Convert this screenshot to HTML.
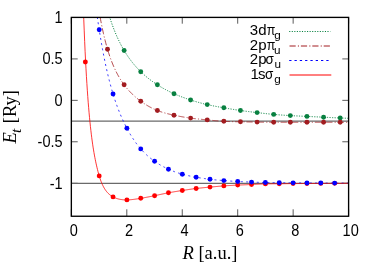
<!DOCTYPE html>
<html><head><meta charset="utf-8"><title>plot</title>
<style>
html,body{margin:0;padding:0;background:#fff;}
svg{display:block;will-change:transform;}
text{font-family:"Liberation Sans",sans-serif;font-size:15px;fill:#000;}
.ser{font-family:"Liberation Serif",serif;font-size:18.5px;}
</style></head><body>
<svg width="375" height="263" viewBox="0 0 375 263">
<rect width="375" height="263" fill="#fff"/>
<clipPath id="c"><rect x="71.5" y="17.5" width="277" height="198"/></clipPath>
<g stroke="#000" stroke-width="0.65" fill="none">
<path d="M71.35,216 v-6.7 M71.35,17.5 v6.2"/>
<path d="M126.80,216 v-6.7 M126.80,17.5 v6.2"/>
<path d="M182.25,216 v-6.7 M182.25,17.5 v6.2"/>
<path d="M237.70,216 v-6.7 M237.70,17.5 v6.2"/>
<path d="M293.15,216 v-6.7 M293.15,17.5 v6.2"/>
<path d="M348.60,216 v-6.7 M348.60,17.5 v6.2"/>
<path d="M71.5,17.50 h6.2 M348.5,17.50 h-6.2"/>
<path d="M71.5,58.92 h6.2 M348.5,58.92 h-6.2"/>
<path d="M71.5,100.35 h6.2 M348.5,100.35 h-6.2"/>
<path d="M71.5,141.77 h6.2 M348.5,141.77 h-6.2"/>
<path d="M71.5,183.30 h6.2 M348.5,183.30 h-6.2"/>
</g>
<g clip-path="url(#c)" fill="none" stroke-width="0.8">
<path d="M71.5,121.05 H348.5" stroke="#6a6a6a" stroke-width="1.33"/>
<path d="M71.5,183.3 H348.5" stroke="#6a6a6a" stroke-width="1.33"/>
<path d="M108.65,13.77 L109.05,15.09 L109.45,16.39 L109.85,17.66 L110.25,18.91 L110.65,20.13 L111.05,21.33 L111.45,22.50 L111.85,23.65 L112.25,24.78 L112.66,25.89 L113.06,26.97 L113.46,28.04 L113.86,29.09 L114.26,30.11 L114.66,31.12 L115.06,32.11 L115.46,33.08 L115.86,34.03 L116.26,34.97 L116.66,35.89 L117.06,36.79 L117.46,37.68 L117.86,38.55 L118.26,39.41 L118.66,40.26 L119.06,41.09 L119.46,41.90 L119.86,42.70 L120.26,43.49 L120.66,44.27 L121.06,45.04 L121.46,45.79 L121.86,46.53 L122.27,47.25 L122.67,47.97 L123.07,48.68 L123.47,49.37 L123.87,50.06 L124.27,50.73 L124.67,51.39 L125.07,52.05 L125.47,52.69 L125.87,53.32 L126.27,53.95 L126.67,54.56 L127.07,55.17 L127.47,55.77 L127.87,56.36 L128.27,56.94 L128.67,57.51 L129.07,58.08 L129.47,58.64 L129.87,59.19 L130.27,59.73 L130.67,60.26 L131.07,60.79 L131.47,61.31 L131.88,61.83 L132.28,62.33 L132.68,62.83 L133.08,63.33 L133.48,63.81 L133.88,64.30 L134.28,64.77 L134.68,65.24 L135.08,65.70 L135.48,66.16 L135.88,66.61 L136.28,67.06 L136.68,67.50 L137.08,67.94 L137.48,68.37 L137.88,68.79 L138.28,69.21 L138.68,69.63 L139.08,70.04 L139.48,70.45 L139.88,70.85 L140.28,71.24 L140.68,71.64 L141.08,72.02 L141.49,72.41 L141.89,72.79 L142.29,73.16 L142.69,73.53 L143.09,73.90 L143.49,74.26 L143.89,74.62 L144.29,74.98 L144.69,75.33 L145.09,75.68 L145.49,76.02 L145.89,76.36 L146.29,76.70 L146.69,77.03 L147.09,77.36 L147.49,77.69 L147.89,78.01 L148.29,78.33 L148.69,78.65 L149.09,78.96 L149.49,79.27 L149.89,79.58 L150.29,79.88 L150.69,80.18 L151.10,80.48 L151.50,80.78 L151.90,81.07 L152.30,81.36 L152.70,81.64 L153.10,81.93 L153.50,82.21 L153.90,82.49 L154.30,82.76 L154.70,83.04 L155.10,83.31 L155.50,83.58 L155.90,83.84 L156.30,84.11 L156.70,84.37 L157.10,84.63 L157.50,84.88 L157.90,85.14 L158.30,85.39 L158.70,85.64 L159.10,85.89 L159.50,86.13 L159.90,86.38 L160.30,86.62 L160.71,86.85 L161.11,87.09 L161.51,87.33 L161.91,87.56 L162.31,87.79 L162.71,88.02 L163.11,88.24 L163.51,88.47 L163.91,88.69 L164.31,88.91 L164.71,89.13 L165.11,89.35 L165.51,89.56 L165.91,89.77 L166.31,89.98 L166.71,90.19 L167.11,90.40 L167.51,90.61 L167.91,90.81 L168.31,91.01 L168.71,91.21 L169.11,91.41 L169.51,91.61 L169.91,91.80 L170.32,92.00 L170.72,92.19 L171.12,92.38 L171.52,92.57 L171.92,92.76 L172.32,92.94 L172.72,93.13 L173.12,93.31 L173.52,93.49 L173.92,93.67 L174.32,93.85 L174.72,94.02 L175.12,94.20 L175.52,94.37 L175.92,94.54 L176.32,94.71 L176.72,94.88 L177.12,95.05 L177.52,95.22 L177.92,95.38 L178.32,95.54 L178.72,95.71 L179.12,95.87 L179.52,96.03 L179.92,96.18 L180.33,96.34 L180.73,96.50 L181.13,96.65 L181.53,96.81 L181.93,96.96 L182.33,97.11 L182.73,97.26 L183.13,97.41 L183.53,97.56 L183.93,97.70 L184.33,97.85 L184.73,97.99 L185.13,98.14 L185.53,98.28 L185.93,98.42 L186.33,98.56 L186.73,98.70 L187.13,98.84 L187.53,98.98 L187.93,99.11 L188.33,99.25 L188.73,99.38 L189.13,99.52 L189.53,99.65 L189.94,99.78 L190.34,99.91 L190.74,100.04 L191.14,100.17 L191.54,100.30 L191.94,100.43 L192.34,100.55 L192.74,100.68 L193.14,100.80 L193.54,100.93 L193.94,101.05 L194.34,101.17 L194.74,101.29 L195.14,101.41 L195.54,101.53 L195.94,101.65 L196.34,101.77 L196.74,101.89 L197.14,102.00 L197.54,102.12 L197.94,102.23 L198.34,102.34 L198.74,102.45 L199.14,102.57 L199.55,102.68 L199.95,102.78 L200.35,102.89 L200.75,103.00 L201.15,103.11 L201.55,103.21 L201.95,103.32 L202.35,103.42 L202.75,103.52 L203.15,103.62 L203.55,103.72 L203.95,103.82 L204.35,103.92 L204.75,104.02 L205.15,104.12 L205.55,104.21 L205.95,104.31 L206.35,104.40 L206.75,104.49 L207.15,104.58 L207.55,104.67 L207.95,104.76 L208.35,104.85 L208.75,104.94 L209.16,105.03 L209.56,105.11 L209.96,105.20 L210.36,105.28 L210.76,105.36 L211.16,105.45 L211.56,105.53 L211.96,105.61 L212.36,105.69 L212.76,105.77 L213.16,105.85 L213.56,105.93 L213.96,106.00 L214.36,106.08 L214.76,106.16 L215.16,106.24 L215.56,106.31 L215.96,106.39 L216.36,106.46 L216.76,106.54 L217.16,106.61 L217.56,106.68 L217.96,106.76 L218.36,106.83 L218.77,106.90 L219.17,106.97 L219.57,107.04 L219.97,107.12 L220.37,107.19 L220.77,107.26 L221.17,107.33 L221.57,107.40 L221.97,107.47 L222.37,107.54 L222.77,107.61 L223.17,107.68 L223.57,107.75 L223.97,107.82 L224.37,107.89 L224.77,107.96 L225.17,108.03 L225.57,108.10 L225.97,108.17 L226.37,108.24 L226.77,108.31 L227.17,108.38 L227.57,108.44 L227.97,108.51 L228.38,108.58 L228.78,108.65 L229.18,108.72 L229.58,108.79 L229.98,108.85 L230.38,108.92 L230.78,108.99 L231.18,109.05 L231.58,109.12 L231.98,109.19 L232.38,109.25 L232.78,109.32 L233.18,109.38 L233.58,109.45 L233.98,109.51 L234.38,109.58 L234.78,109.64 L235.18,109.70 L235.58,109.77 L235.98,109.83 L236.38,109.89 L236.78,109.95 L237.18,110.01 L237.58,110.07 L237.99,110.13 L238.39,110.19 L238.79,110.25 L239.19,110.31 L239.59,110.37 L239.99,110.43 L240.39,110.49 L240.79,110.55 L241.19,110.60 L241.59,110.66 L241.99,110.71 L242.39,110.77 L242.79,110.82 L243.19,110.88 L243.59,110.93 L243.99,110.99 L244.39,111.04 L244.79,111.09 L245.19,111.15 L245.59,111.20 L245.99,111.25 L246.39,111.30 L246.79,111.35 L247.19,111.40 L247.60,111.45 L248.00,111.50 L248.40,111.55 L248.80,111.60 L249.20,111.65 L249.60,111.70 L250.00,111.75 L250.40,111.80 L250.80,111.85 L251.20,111.90 L251.60,111.95 L252.00,112.00 L252.40,112.04 L252.80,112.09 L253.20,112.14 L253.60,112.19 L254.00,112.24 L254.40,112.28 L254.80,112.33 L255.20,112.38 L255.60,112.42 L256.00,112.47 L256.40,112.52 L256.80,112.57 L257.21,112.61 L257.61,112.66 L258.01,112.71 L258.41,112.75 L258.81,112.80 L259.21,112.85 L259.61,112.89 L260.01,112.94 L260.41,112.99 L260.81,113.03 L261.21,113.08 L261.61,113.13 L262.01,113.17 L262.41,113.22 L262.81,113.26 L263.21,113.31 L263.61,113.35 L264.01,113.40 L264.41,113.44 L264.81,113.49 L265.21,113.53 L265.61,113.58 L266.01,113.62 L266.41,113.67 L266.82,113.71 L267.22,113.75 L267.62,113.79 L268.02,113.84 L268.42,113.88 L268.82,113.92 L269.22,113.96 L269.62,114.00 L270.02,114.04 L270.42,114.08 L270.82,114.12 L271.22,114.16 L271.62,114.20 L272.02,114.24 L272.42,114.28 L272.82,114.32 L273.22,114.35 L273.62,114.39 L274.02,114.43 L274.42,114.46 L274.82,114.50 L275.22,114.54 L275.62,114.57 L276.02,114.61 L276.43,114.64 L276.83,114.67 L277.23,114.71 L277.63,114.74 L278.03,114.77 L278.43,114.80 L278.83,114.84 L279.23,114.87 L279.63,114.90 L280.03,114.93 L280.43,114.96 L280.83,114.99 L281.23,115.02 L281.63,115.05 L282.03,115.08 L282.43,115.10 L282.83,115.13 L283.23,115.16 L283.63,115.19 L284.03,115.21 L284.43,115.24 L284.83,115.27 L285.23,115.29 L285.63,115.32 L286.04,115.34 L286.44,115.37 L286.84,115.39 L287.24,115.42 L287.64,115.44 L288.04,115.47 L288.44,115.49 L288.84,115.51 L289.24,115.54 L289.64,115.56 L290.04,115.58 L290.44,115.61 L290.84,115.63 L291.24,115.65 L291.64,115.67 L292.04,115.69 L292.44,115.71 L292.84,115.74 L293.24,115.76 L293.64,115.78 L294.04,115.80 L294.44,115.82 L294.84,115.84 L295.24,115.86 L295.65,115.88 L296.05,115.90 L296.45,115.92 L296.85,115.94 L297.25,115.95 L297.65,115.97 L298.05,115.99 L298.45,116.01 L298.85,116.03 L299.25,116.05 L299.65,116.07 L300.05,116.09 L300.45,116.10 L300.85,116.12 L301.25,116.14 L301.65,116.16 L302.05,116.18 L302.45,116.20 L302.85,116.21 L303.25,116.23 L303.65,116.25 L304.05,116.27 L304.45,116.29 L304.85,116.30 L305.26,116.32 L305.66,116.34 L306.06,116.36 L306.46,116.38 L306.86,116.40 L307.26,116.41 L307.66,116.43 L308.06,116.45 L308.46,116.47 L308.86,116.49 L309.26,116.51 L309.66,116.53 L310.06,116.54 L310.46,116.56 L310.86,116.58 L311.26,116.60 L311.66,116.62 L312.06,116.64 L312.46,116.66 L312.86,116.68 L313.26,116.69 L313.66,116.71 L314.06,116.73 L314.46,116.75 L314.87,116.77 L315.27,116.79 L315.67,116.81 L316.07,116.83 L316.47,116.85 L316.87,116.87 L317.27,116.89 L317.67,116.91 L318.07,116.93 L318.47,116.95 L318.87,116.97 L319.27,116.99 L319.67,117.01 L320.07,117.03 L320.47,117.05 L320.87,117.07 L321.27,117.08 L321.67,117.10 L322.07,117.12 L322.47,117.14 L322.87,117.16 L323.27,117.19 L323.67,117.21 L324.07,117.23 L324.48,117.25 L324.88,117.27 L325.28,117.29 L325.68,117.31 L326.08,117.33 L326.48,117.35 L326.88,117.37 L327.28,117.39 L327.68,117.41 L328.08,117.43 L328.48,117.45 L328.88,117.47 L329.28,117.49 L329.68,117.51 L330.08,117.53 L330.48,117.55 L330.88,117.57 L331.28,117.59 L331.68,117.61 L332.08,117.63 L332.48,117.65 L332.88,117.67 L333.28,117.69 L333.68,117.71 L334.09,117.72 L334.49,117.74 L334.89,117.76 L335.29,117.78 L335.69,117.80 L336.09,117.82 L336.49,117.84 L336.89,117.86 L337.29,117.87 L337.69,117.89 L338.09,117.91 L338.49,117.93 L338.89,117.94 L339.29,117.96 L339.69,117.98 L340.09,118.00 L340.49,118.01 L340.89,118.03 L341.29,118.05 L341.69,118.06 L342.09,118.08 L342.49,118.09 L342.89,118.11 L343.29,118.12 L343.70,118.14 L344.10,118.15 L344.50,118.17 L344.90,118.18 L345.30,118.20 L345.70,118.21 L346.10,118.22 L346.50,118.24 L346.90,118.25 L347.30,118.26 L347.70,118.28 L348.10,118.29 L348.50,118.30" stroke="#088040" stroke-width="1" stroke-dasharray="1.15,1.4"/>
<path d="M99.34,12.63 L99.75,15.02 L100.17,17.34 L100.59,19.60 L101.00,21.79 L101.42,23.92 L101.83,25.99 L102.25,28.00 L102.67,29.96 L103.08,31.87 L103.50,33.72 L103.91,35.52 L104.33,37.28 L104.75,38.98 L105.16,40.64 L105.58,42.26 L105.99,43.83 L106.41,45.36 L106.83,46.84 L107.24,48.29 L107.66,49.70 L108.07,51.07 L108.49,52.40 L108.91,53.70 L109.32,54.96 L109.74,56.19 L110.15,57.38 L110.57,58.55 L110.99,59.69 L111.40,60.80 L111.82,61.88 L112.23,62.93 L112.65,63.96 L113.07,64.96 L113.48,65.94 L113.90,66.90 L114.31,67.83 L114.73,68.74 L115.15,69.63 L115.56,70.50 L115.98,71.35 L116.39,72.18 L116.81,72.99 L117.23,73.79 L117.64,74.57 L118.06,75.33 L118.47,76.07 L118.89,76.80 L119.31,77.51 L119.72,78.21 L120.14,78.89 L120.55,79.56 L120.97,80.22 L121.38,80.86 L121.80,81.49 L122.22,82.11 L122.63,82.71 L123.05,83.31 L123.46,83.89 L123.88,84.46 L124.30,85.02 L124.71,85.58 L125.13,86.12 L125.54,86.65 L125.96,87.17 L126.38,87.68 L126.79,88.19 L127.21,88.68 L127.62,89.17 L128.04,89.65 L128.46,90.12 L128.87,90.58 L129.29,91.04 L129.70,91.48 L130.12,91.92 L130.54,92.36 L130.95,92.78 L131.37,93.20 L131.78,93.61 L132.20,94.02 L132.62,94.42 L133.03,94.82 L133.45,95.20 L133.86,95.59 L134.28,95.96 L134.70,96.33 L135.11,96.70 L135.53,97.06 L135.94,97.42 L136.36,97.77 L136.78,98.11 L137.19,98.46 L137.61,98.79 L138.02,99.13 L138.44,99.45 L138.86,99.78 L139.27,100.10 L139.69,100.41 L140.10,100.72 L140.52,101.03 L140.94,101.33 L141.35,101.64 L141.77,101.93 L142.18,102.22 L142.60,102.51 L143.01,102.80 L143.43,103.08 L143.85,103.36 L144.26,103.63 L144.68,103.91 L145.09,104.17 L145.51,104.44 L145.93,104.70 L146.34,104.96 L146.76,105.21 L147.17,105.46 L147.59,105.70 L148.01,105.95 L148.42,106.19 L148.84,106.42 L149.25,106.65 L149.67,106.88 L150.09,107.11 L150.50,107.33 L150.92,107.55 L151.33,107.76 L151.75,107.98 L152.17,108.18 L152.58,108.39 L153.00,108.59 L153.41,108.79 L153.83,108.98 L154.25,109.17 L154.66,109.36 L155.08,109.55 L155.49,109.73 L155.91,109.90 L156.33,110.08 L156.74,110.25 L157.16,110.42 L157.57,110.58 L157.99,110.74 L158.41,110.90 L158.82,111.05 L159.24,111.20 L159.65,111.35 L160.07,111.50 L160.49,111.64 L160.90,111.78 L161.32,111.92 L161.73,112.05 L162.15,112.19 L162.57,112.32 L162.98,112.44 L163.40,112.57 L163.81,112.69 L164.23,112.81 L164.64,112.93 L165.06,113.05 L165.48,113.16 L165.89,113.28 L166.31,113.39 L166.72,113.50 L167.14,113.61 L167.56,113.71 L167.97,113.82 L168.39,113.92 L168.80,114.02 L169.22,114.13 L169.64,114.22 L170.05,114.32 L170.47,114.42 L170.88,114.52 L171.30,114.61 L171.72,114.70 L172.13,114.80 L172.55,114.89 L172.96,114.98 L173.38,115.07 L173.80,115.16 L174.21,115.25 L174.63,115.33 L175.04,115.42 L175.46,115.51 L175.88,115.59 L176.29,115.68 L176.71,115.76 L177.12,115.85 L177.54,115.93 L177.96,116.01 L178.37,116.09 L178.79,116.17 L179.20,116.25 L179.62,116.33 L180.04,116.41 L180.45,116.48 L180.87,116.56 L181.28,116.63 L181.70,116.71 L182.12,116.78 L182.53,116.85 L182.95,116.93 L183.36,117.00 L183.78,117.07 L184.20,117.14 L184.61,117.21 L185.03,117.27 L185.44,117.34 L185.86,117.41 L186.27,117.47 L186.69,117.54 L187.11,117.60 L187.52,117.66 L187.94,117.72 L188.35,117.79 L188.77,117.85 L189.19,117.90 L189.60,117.96 L190.02,118.02 L190.43,118.08 L190.85,118.13 L191.27,118.19 L191.68,118.24 L192.10,118.29 L192.51,118.35 L192.93,118.40 L193.35,118.45 L193.76,118.50 L194.18,118.55 L194.59,118.60 L195.01,118.64 L195.43,118.69 L195.84,118.74 L196.26,118.79 L196.67,118.83 L197.09,118.88 L197.51,118.92 L197.92,118.97 L198.34,119.01 L198.75,119.06 L199.17,119.10 L199.59,119.14 L200.00,119.18 L200.42,119.23 L200.83,119.27 L201.25,119.31 L201.67,119.35 L202.08,119.39 L202.50,119.44 L202.91,119.48 L203.33,119.52 L203.75,119.56 L204.16,119.60 L204.58,119.64 L204.99,119.68 L205.41,119.72 L205.83,119.76 L206.24,119.80 L206.66,119.84 L207.07,119.88 L207.49,119.93 L207.90,119.97 L208.32,120.01 L208.74,120.05 L209.15,120.09 L209.57,120.13 L209.98,120.17 L210.40,120.21 L210.82,120.25 L211.23,120.29 L211.65,120.33 L212.06,120.37 L212.48,120.41 L212.90,120.45 L213.31,120.49 L213.73,120.53 L214.14,120.56 L214.56,120.60 L214.98,120.64 L215.39,120.68 L215.81,120.71 L216.22,120.75 L216.64,120.78 L217.06,120.82 L217.47,120.85 L217.89,120.89 L218.30,120.92 L218.72,120.95 L219.14,120.99 L219.55,121.02 L219.97,121.05 L220.38,121.08 L220.80,121.11 L221.22,121.14 L221.63,121.16 L222.05,121.19 L222.46,121.22 L222.88,121.24 L223.30,121.27 L223.71,121.29 L224.13,121.32 L224.54,121.34 L224.96,121.36 L225.38,121.38 L225.79,121.40 L226.21,121.42 L226.62,121.44 L227.04,121.45 L227.46,121.47 L227.87,121.49 L228.29,121.50 L228.70,121.52 L229.12,121.53 L229.53,121.55 L229.95,121.56 L230.37,121.58 L230.78,121.59 L231.20,121.60 L231.61,121.61 L232.03,121.62 L232.45,121.63 L232.86,121.64 L233.28,121.66 L233.69,121.67 L234.11,121.67 L234.53,121.68 L234.94,121.69 L235.36,121.70 L235.77,121.71 L236.19,121.72 L236.61,121.73 L237.02,121.74 L237.44,121.74 L237.85,121.75 L238.27,121.76 L238.69,121.77 L239.10,121.77 L239.52,121.78 L239.93,121.79 L240.35,121.80 L240.77,121.81 L241.18,121.81 L241.60,121.82 L242.01,121.83 L242.43,121.84 L242.85,121.84 L243.26,121.85 L243.68,121.86 L244.09,121.87 L244.51,121.87 L244.93,121.88 L245.34,121.89 L245.76,121.90 L246.17,121.91 L246.59,121.91 L247.01,121.92 L247.42,121.93 L247.84,121.94 L248.25,121.94 L248.67,121.95 L249.09,121.96 L249.50,121.97 L249.92,121.97 L250.33,121.98 L250.75,121.99 L251.16,122.00 L251.58,122.00 L252.00,122.01 L252.41,122.02 L252.83,122.03 L253.24,122.03 L253.66,122.04 L254.08,122.05 L254.49,122.06 L254.91,122.06 L255.32,122.07 L255.74,122.08 L256.16,122.08 L256.57,122.09 L256.99,122.10 L257.40,122.11 L257.82,122.11 L258.24,122.12 L258.65,122.13 L259.07,122.13 L259.48,122.14 L259.90,122.15 L260.32,122.15 L260.73,122.16 L261.15,122.17 L261.56,122.17 L261.98,122.18 L262.40,122.18 L262.81,122.19 L263.23,122.20 L263.64,122.20 L264.06,122.21 L264.48,122.21 L264.89,122.22 L265.31,122.22 L265.72,122.23 L266.14,122.23 L266.56,122.24 L266.97,122.24 L267.39,122.25 L267.80,122.25 L268.22,122.26 L268.64,122.26 L269.05,122.27 L269.47,122.27 L269.88,122.27 L270.30,122.28 L270.72,122.28 L271.13,122.28 L271.55,122.29 L271.96,122.29 L272.38,122.29 L272.79,122.29 L273.21,122.30 L273.63,122.30 L274.04,122.30 L274.46,122.30 L274.87,122.31 L275.29,122.31 L275.71,122.31 L276.12,122.31 L276.54,122.31 L276.95,122.31 L277.37,122.31 L277.79,122.31 L278.20,122.31 L278.62,122.31 L279.03,122.31 L279.45,122.31 L279.87,122.31 L280.28,122.31 L280.70,122.31 L281.11,122.31 L281.53,122.31 L281.95,122.31 L282.36,122.31 L282.78,122.31 L283.19,122.31 L283.61,122.31 L284.03,122.31 L284.44,122.31 L284.86,122.31 L285.27,122.31 L285.69,122.31 L286.11,122.31 L286.52,122.31 L286.94,122.31 L287.35,122.30 L287.77,122.30 L288.19,122.30 L288.60,122.30 L289.02,122.30 L289.43,122.30 L289.85,122.30 L290.27,122.30 L290.68,122.30 L291.10,122.30 L291.51,122.30 L291.93,122.30 L292.35,122.30 L292.76,122.30 L293.18,122.30 L293.59,122.30 L294.01,122.30 L294.42,122.30 L294.84,122.30 L295.26,122.30 L295.67,122.30 L296.09,122.30 L296.50,122.30 L296.92,122.30 L297.34,122.30 L297.75,122.30 L298.17,122.30 L298.58,122.30 L299.00,122.30 L299.42,122.30 L299.83,122.30 L300.25,122.30 L300.66,122.30 L301.08,122.30 L301.50,122.30 L301.91,122.30 L302.33,122.30 L302.74,122.30 L303.16,122.30 L303.58,122.30 L303.99,122.30 L304.41,122.30 L304.82,122.30 L305.24,122.30 L305.66,122.30 L306.07,122.30 L306.49,122.30 L306.90,122.30 L307.32,122.30 L307.74,122.30 L308.15,122.30 L308.57,122.30 L308.98,122.30 L309.40,122.30 L309.82,122.30 L310.23,122.30 L310.65,122.30 L311.06,122.30 L311.48,122.30 L311.90,122.30 L312.31,122.30 L312.73,122.30 L313.14,122.30 L313.56,122.30 L313.98,122.30 L314.39,122.30 L314.81,122.30 L315.22,122.30 L315.64,122.30 L316.05,122.30 L316.47,122.30 L316.89,122.30 L317.30,122.30 L317.72,122.30 L318.13,122.30 L318.55,122.30 L318.97,122.30 L319.38,122.30 L319.80,122.30 L320.21,122.30 L320.63,122.30 L321.05,122.30 L321.46,122.30 L321.88,122.30 L322.29,122.30 L322.71,122.30 L323.13,122.30 L323.54,122.30 L323.96,122.30 L324.37,122.30 L324.79,122.30 L325.21,122.30 L325.62,122.30 L326.04,122.30 L326.45,122.30 L326.87,122.30 L327.29,122.30 L327.70,122.30 L328.12,122.30 L328.53,122.30 L328.95,122.30 L329.37,122.30 L329.78,122.30 L330.20,122.30 L330.61,122.30 L331.03,122.30 L331.45,122.30 L331.86,122.30 L332.28,122.30 L332.69,122.30 L333.11,122.30 L333.53,122.30 L333.94,122.30 L334.36,122.30 L334.77,122.30 L335.19,122.30 L335.61,122.30 L336.02,122.30 L336.44,122.30 L336.85,122.30 L337.27,122.30 L337.68,122.30 L338.10,122.30 L338.52,122.30 L338.93,122.30 L339.35,122.30 L339.76,122.30 L340.18,122.30 L340.60,122.30 L341.01,122.30 L341.43,122.30 L341.84,122.30 L342.26,122.30 L342.68,122.30 L343.09,122.30 L343.51,122.30 L343.92,122.30 L344.34,122.30 L344.76,122.30 L345.17,122.30 L345.59,122.30 L346.00,122.30 L346.42,122.30 L346.84,122.30 L347.25,122.30 L347.67,122.30 L348.08,122.30 L348.50,122.30" stroke="#a21c20" stroke-dasharray="6.2,2.2,1.1,1.9" stroke-dashoffset="-4.5"/>
<path d="M96.62,11.74 L97.04,14.90 L97.46,17.96 L97.88,20.93 L98.30,23.81 L98.73,26.62 L99.15,29.35 L99.57,32.03 L99.99,34.64 L100.41,37.20 L100.83,39.70 L101.25,42.15 L101.67,44.55 L102.09,46.90 L102.51,49.19 L102.93,51.45 L103.35,53.65 L103.77,55.81 L104.19,57.93 L104.61,60.00 L105.03,62.03 L105.45,64.02 L105.87,65.98 L106.29,67.89 L106.71,69.77 L107.14,71.61 L107.56,73.41 L107.98,75.18 L108.40,76.92 L108.82,78.62 L109.24,80.29 L109.66,81.92 L110.08,83.53 L110.50,85.10 L110.92,86.64 L111.34,88.15 L111.76,89.63 L112.18,91.09 L112.60,92.51 L113.02,93.91 L113.44,95.28 L113.86,96.62 L114.28,97.94 L114.70,99.23 L115.12,100.49 L115.55,101.74 L115.97,102.95 L116.39,104.15 L116.81,105.33 L117.23,106.48 L117.65,107.61 L118.07,108.73 L118.49,109.82 L118.91,110.89 L119.33,111.95 L119.75,112.99 L120.17,114.01 L120.59,115.01 L121.01,116.00 L121.43,116.97 L121.85,117.92 L122.27,118.86 L122.69,119.79 L123.11,120.70 L123.53,121.60 L123.96,122.48 L124.38,123.35 L124.80,124.20 L125.22,125.05 L125.64,125.88 L126.06,126.70 L126.48,127.50 L126.90,128.30 L127.32,129.08 L127.74,129.85 L128.16,130.61 L128.58,131.37 L129.00,132.10 L129.42,132.83 L129.84,133.55 L130.26,134.26 L130.68,134.96 L131.10,135.65 L131.52,136.32 L131.94,136.99 L132.37,137.65 L132.79,138.30 L133.21,138.94 L133.63,139.57 L134.05,140.19 L134.47,140.80 L134.89,141.40 L135.31,142.00 L135.73,142.58 L136.15,143.16 L136.57,143.72 L136.99,144.28 L137.41,144.83 L137.83,145.37 L138.25,145.91 L138.67,146.43 L139.09,146.95 L139.51,147.45 L139.93,147.95 L140.35,148.44 L140.78,148.93 L141.20,149.40 L141.62,149.87 L142.04,150.33 L142.46,150.79 L142.88,151.23 L143.30,151.67 L143.72,152.10 L144.14,152.53 L144.56,152.95 L144.98,153.36 L145.40,153.76 L145.82,154.16 L146.24,154.56 L146.66,154.94 L147.08,155.33 L147.50,155.70 L147.92,156.07 L148.34,156.44 L148.76,156.80 L149.18,157.15 L149.61,157.50 L150.03,157.85 L150.45,158.19 L150.87,158.52 L151.29,158.85 L151.71,159.18 L152.13,159.50 L152.55,159.81 L152.97,160.13 L153.39,160.43 L153.81,160.74 L154.23,161.04 L154.65,161.34 L155.07,161.63 L155.49,161.92 L155.91,162.20 L156.33,162.48 L156.75,162.76 L157.17,163.04 L157.59,163.31 L158.02,163.57 L158.44,163.84 L158.86,164.10 L159.28,164.36 L159.70,164.61 L160.12,164.86 L160.54,165.11 L160.96,165.35 L161.38,165.59 L161.80,165.83 L162.22,166.06 L162.64,166.30 L163.06,166.53 L163.48,166.75 L163.90,166.97 L164.32,167.19 L164.74,167.41 L165.16,167.62 L165.58,167.83 L166.00,168.04 L166.43,168.25 L166.85,168.45 L167.27,168.65 L167.69,168.85 L168.11,169.04 L168.53,169.24 L168.95,169.42 L169.37,169.61 L169.79,169.80 L170.21,169.98 L170.63,170.16 L171.05,170.33 L171.47,170.51 L171.89,170.68 L172.31,170.85 L172.73,171.02 L173.15,171.18 L173.57,171.34 L173.99,171.50 L174.41,171.66 L174.84,171.82 L175.26,171.97 L175.68,172.12 L176.10,172.27 L176.52,172.41 L176.94,172.56 L177.36,172.70 L177.78,172.84 L178.20,172.97 L178.62,173.11 L179.04,173.24 L179.46,173.37 L179.88,173.50 L180.30,173.63 L180.72,173.75 L181.14,173.87 L181.56,173.99 L181.98,174.11 L182.40,174.23 L182.82,174.34 L183.25,174.45 L183.67,174.56 L184.09,174.67 L184.51,174.78 L184.93,174.88 L185.35,174.99 L185.77,175.09 L186.19,175.19 L186.61,175.29 L187.03,175.38 L187.45,175.48 L187.87,175.57 L188.29,175.66 L188.71,175.76 L189.13,175.85 L189.55,175.93 L189.97,176.02 L190.39,176.11 L190.81,176.19 L191.23,176.28 L191.66,176.36 L192.08,176.44 L192.50,176.52 L192.92,176.61 L193.34,176.69 L193.76,176.76 L194.18,176.84 L194.60,176.92 L195.02,177.00 L195.44,177.07 L195.86,177.15 L196.28,177.22 L196.70,177.30 L197.12,177.37 L197.54,177.44 L197.96,177.52 L198.38,177.59 L198.80,177.66 L199.22,177.73 L199.64,177.80 L200.06,177.87 L200.49,177.94 L200.91,178.01 L201.33,178.08 L201.75,178.14 L202.17,178.21 L202.59,178.28 L203.01,178.34 L203.43,178.40 L203.85,178.47 L204.27,178.53 L204.69,178.59 L205.11,178.65 L205.53,178.71 L205.95,178.77 L206.37,178.83 L206.79,178.89 L207.21,178.95 L207.63,179.00 L208.05,179.06 L208.47,179.11 L208.90,179.16 L209.32,179.22 L209.74,179.27 L210.16,179.32 L210.58,179.37 L211.00,179.42 L211.42,179.47 L211.84,179.51 L212.26,179.56 L212.68,179.60 L213.10,179.65 L213.52,179.69 L213.94,179.74 L214.36,179.78 L214.78,179.82 L215.20,179.86 L215.62,179.90 L216.04,179.94 L216.46,179.98 L216.88,180.02 L217.31,180.06 L217.73,180.10 L218.15,180.14 L218.57,180.17 L218.99,180.21 L219.41,180.24 L219.83,180.28 L220.25,180.32 L220.67,180.35 L221.09,180.38 L221.51,180.42 L221.93,180.45 L222.35,180.48 L222.77,180.52 L223.19,180.55 L223.61,180.58 L224.03,180.61 L224.45,180.65 L224.87,180.68 L225.29,180.71 L225.72,180.74 L226.14,180.77 L226.56,180.80 L226.98,180.83 L227.40,180.86 L227.82,180.89 L228.24,180.92 L228.66,180.95 L229.08,180.98 L229.50,181.01 L229.92,181.03 L230.34,181.06 L230.76,181.09 L231.18,181.12 L231.60,181.14 L232.02,181.17 L232.44,181.20 L232.86,181.22 L233.28,181.25 L233.70,181.27 L234.13,181.30 L234.55,181.32 L234.97,181.35 L235.39,181.37 L235.81,181.40 L236.23,181.42 L236.65,181.44 L237.07,181.47 L237.49,181.49 L237.91,181.51 L238.33,181.53 L238.75,181.55 L239.17,181.58 L239.59,181.60 L240.01,181.62 L240.43,181.64 L240.85,181.66 L241.27,181.68 L241.69,181.70 L242.11,181.72 L242.54,181.74 L242.96,181.76 L243.38,181.78 L243.80,181.79 L244.22,181.81 L244.64,181.83 L245.06,181.85 L245.48,181.87 L245.90,181.88 L246.32,181.90 L246.74,181.92 L247.16,181.93 L247.58,181.95 L248.00,181.97 L248.42,181.98 L248.84,182.00 L249.26,182.02 L249.68,182.03 L250.10,182.05 L250.52,182.06 L250.94,182.08 L251.37,182.09 L251.79,182.11 L252.21,182.12 L252.63,182.14 L253.05,182.15 L253.47,182.17 L253.89,182.18 L254.31,182.20 L254.73,182.21 L255.15,182.22 L255.57,182.24 L255.99,182.25 L256.41,182.26 L256.83,182.28 L257.25,182.29 L257.67,182.30 L258.09,182.32 L258.51,182.33 L258.93,182.34 L259.35,182.35 L259.78,182.36 L260.20,182.38 L260.62,182.39 L261.04,182.40 L261.46,182.41 L261.88,182.42 L262.30,182.43 L262.72,182.44 L263.14,182.45 L263.56,182.46 L263.98,182.47 L264.40,182.48 L264.82,182.49 L265.24,182.50 L265.66,182.51 L266.08,182.51 L266.50,182.52 L266.92,182.53 L267.34,182.54 L267.76,182.54 L268.19,182.55 L268.61,182.56 L269.03,182.57 L269.45,182.57 L269.87,182.58 L270.29,182.59 L270.71,182.59 L271.13,182.60 L271.55,182.60 L271.97,182.61 L272.39,182.62 L272.81,182.62 L273.23,182.63 L273.65,182.63 L274.07,182.64 L274.49,182.64 L274.91,182.65 L275.33,182.65 L275.75,182.66 L276.17,182.66 L276.60,182.67 L277.02,182.67 L277.44,182.68 L277.86,182.68 L278.28,182.69 L278.70,182.69 L279.12,182.70 L279.54,182.70 L279.96,182.71 L280.38,182.71 L280.80,182.72 L281.22,182.72 L281.64,182.73 L282.06,182.73 L282.48,182.74 L282.90,182.74 L283.32,182.75 L283.74,182.75 L284.16,182.76 L284.58,182.76 L285.01,182.77 L285.43,182.77 L285.85,182.78 L286.27,182.78 L286.69,182.79 L287.11,182.79 L287.53,182.80 L287.95,182.80 L288.37,182.80 L288.79,182.81 L289.21,182.81 L289.63,182.82 L290.05,182.82 L290.47,182.83 L290.89,182.83 L291.31,182.83 L291.73,182.84 L292.15,182.84 L292.57,182.85 L292.99,182.85 L293.42,182.85 L293.84,182.86 L294.26,182.86 L294.68,182.86 L295.10,182.87 L295.52,182.87 L295.94,182.87 L296.36,182.88 L296.78,182.88 L297.20,182.88 L297.62,182.89 L298.04,182.89 L298.46,182.89 L298.88,182.89 L299.30,182.90 L299.72,182.90 L300.14,182.90 L300.56,182.91 L300.98,182.91 L301.40,182.91 L301.82,182.91 L302.25,182.92 L302.67,182.92 L303.09,182.92 L303.51,182.93 L303.93,182.93 L304.35,182.93 L304.77,182.93 L305.19,182.94 L305.61,182.94 L306.03,182.94 L306.45,182.95 L306.87,182.95 L307.29,182.95 L307.71,182.96 L308.13,182.96 L308.55,182.96 L308.97,182.97 L309.39,182.97 L309.81,182.97 L310.23,182.97 L310.66,182.98 L311.08,182.98 L311.50,182.98 L311.92,182.99 L312.34,182.99 L312.76,182.99 L313.18,183.00 L313.60,183.00 L314.02,183.00 L314.44,183.01 L314.86,183.01 L315.28,183.01 L315.70,183.02 L316.12,183.02 L316.54,183.02 L316.96,183.03 L317.38,183.03 L317.80,183.03 L318.22,183.03 L318.64,183.04 L319.07,183.04 L319.49,183.04 L319.91,183.04 L320.33,183.05 L320.75,183.05 L321.17,183.05 L321.59,183.05 L322.01,183.06 L322.43,183.06 L322.85,183.06 L323.27,183.06 L323.69,183.06 L324.11,183.07 L324.53,183.07 L324.95,183.07 L325.37,183.07 L325.79,183.07 L326.21,183.07 L326.63,183.08 L327.05,183.08 L327.48,183.08 L327.90,183.08 L328.32,183.08 L328.74,183.08 L329.16,183.08 L329.58,183.09 L330.00,183.09 L330.42,183.09 L330.84,183.09 L331.26,183.09 L331.68,183.09 L332.10,183.09 L332.52,183.09 L332.94,183.10 L333.36,183.10 L333.78,183.10 L334.20,183.10 L334.62,183.10 L335.04,183.10 L335.46,183.10 L335.89,183.10 L336.31,183.10 L336.73,183.11 L337.15,183.11 L337.57,183.11 L337.99,183.11 L338.41,183.11 L338.83,183.11 L339.25,183.11 L339.67,183.11 L340.09,183.12 L340.51,183.12 L340.93,183.12 L341.35,183.12 L341.77,183.12 L342.19,183.12 L342.61,183.12 L343.03,183.13 L343.45,183.13 L343.87,183.13 L344.30,183.13 L344.72,183.13 L345.14,183.13 L345.56,183.14 L345.98,183.14 L346.40,183.14 L346.82,183.14 L347.24,183.14 L347.66,183.15 L348.08,183.15 L348.50,183.15" stroke="#0000ff" stroke-dasharray="2,3.3"/>
<path d="M83.33,7.43 L83.78,19.54 L84.22,30.89 L84.66,41.48 L85.10,51.32 L85.55,60.39 L85.99,68.74 L86.43,76.45 L86.88,83.59 L87.32,90.23 L87.76,96.42 L88.20,102.22 L88.65,107.67 L89.09,112.79 L89.53,117.61 L89.97,122.14 L90.42,126.40 L90.86,130.41 L91.30,134.17 L91.74,137.71 L92.19,141.04 L92.63,144.18 L93.07,147.14 L93.52,149.93 L93.96,152.57 L94.40,155.06 L94.84,157.42 L95.29,159.68 L95.73,161.83 L96.17,163.89 L96.61,165.87 L97.06,167.78 L97.50,169.61 L97.94,171.37 L98.39,173.04 L98.83,174.63 L99.27,176.13 L99.71,177.55 L100.16,178.89 L100.60,180.15 L101.04,181.34 L101.48,182.46 L101.93,183.52 L102.37,184.52 L102.81,185.46 L103.25,186.34 L103.70,187.18 L104.14,187.96 L104.58,188.70 L105.03,189.40 L105.47,190.06 L105.91,190.67 L106.35,191.26 L106.80,191.80 L107.24,192.32 L107.68,192.81 L108.12,193.27 L108.57,193.70 L109.01,194.10 L109.45,194.49 L109.89,194.85 L110.34,195.19 L110.78,195.51 L111.22,195.81 L111.67,196.10 L112.11,196.37 L112.55,196.63 L112.99,196.87 L113.44,197.10 L113.88,197.32 L114.32,197.53 L114.76,197.72 L115.21,197.91 L115.65,198.09 L116.09,198.25 L116.54,198.41 L116.98,198.55 L117.42,198.69 L117.86,198.82 L118.31,198.94 L118.75,199.05 L119.19,199.16 L119.63,199.25 L120.08,199.34 L120.52,199.42 L120.96,199.50 L121.40,199.56 L121.85,199.62 L122.29,199.68 L122.73,199.73 L123.18,199.77 L123.62,199.80 L124.06,199.83 L124.50,199.86 L124.95,199.88 L125.39,199.89 L125.83,199.90 L126.27,199.90 L126.72,199.90 L127.16,199.90 L127.60,199.89 L128.04,199.87 L128.49,199.85 L128.93,199.83 L129.37,199.80 L129.82,199.77 L130.26,199.74 L130.70,199.70 L131.14,199.66 L131.59,199.62 L132.03,199.57 L132.47,199.52 L132.91,199.47 L133.36,199.42 L133.80,199.37 L134.24,199.31 L134.69,199.25 L135.13,199.19 L135.57,199.12 L136.01,199.06 L136.46,198.99 L136.90,198.93 L137.34,198.86 L137.78,198.79 L138.23,198.72 L138.67,198.65 L139.11,198.57 L139.55,198.50 L140.00,198.43 L140.44,198.35 L140.88,198.28 L141.33,198.20 L141.77,198.13 L142.21,198.05 L142.65,197.97 L143.10,197.90 L143.54,197.82 L143.98,197.74 L144.42,197.66 L144.87,197.58 L145.31,197.50 L145.75,197.42 L146.19,197.34 L146.64,197.26 L147.08,197.18 L147.52,197.10 L147.97,197.01 L148.41,196.93 L148.85,196.85 L149.29,196.76 L149.74,196.68 L150.18,196.59 L150.62,196.51 L151.06,196.42 L151.51,196.33 L151.95,196.24 L152.39,196.15 L152.83,196.06 L153.28,195.97 L153.72,195.88 L154.16,195.79 L154.61,195.70 L155.05,195.61 L155.49,195.51 L155.93,195.42 L156.38,195.32 L156.82,195.23 L157.26,195.13 L157.70,195.04 L158.15,194.94 L158.59,194.85 L159.03,194.75 L159.48,194.65 L159.92,194.56 L160.36,194.46 L160.80,194.37 L161.25,194.27 L161.69,194.18 L162.13,194.08 L162.57,193.99 L163.02,193.89 L163.46,193.80 L163.90,193.71 L164.34,193.62 L164.79,193.53 L165.23,193.43 L165.67,193.34 L166.12,193.26 L166.56,193.17 L167.00,193.08 L167.44,192.99 L167.89,192.91 L168.33,192.82 L168.77,192.74 L169.21,192.66 L169.66,192.58 L170.10,192.50 L170.54,192.42 L170.98,192.34 L171.43,192.26 L171.87,192.18 L172.31,192.11 L172.76,192.03 L173.20,191.95 L173.64,191.88 L174.08,191.81 L174.53,191.73 L174.97,191.66 L175.41,191.59 L175.85,191.52 L176.30,191.44 L176.74,191.37 L177.18,191.30 L177.63,191.23 L178.07,191.16 L178.51,191.09 L178.95,191.02 L179.40,190.95 L179.84,190.88 L180.28,190.82 L180.72,190.75 L181.17,190.68 L181.61,190.61 L182.05,190.54 L182.49,190.47 L182.94,190.40 L183.38,190.33 L183.82,190.26 L184.27,190.19 L184.71,190.12 L185.15,190.06 L185.59,189.99 L186.04,189.92 L186.48,189.85 L186.92,189.78 L187.36,189.72 L187.81,189.65 L188.25,189.58 L188.69,189.52 L189.13,189.45 L189.58,189.39 L190.02,189.32 L190.46,189.26 L190.91,189.20 L191.35,189.13 L191.79,189.07 L192.23,189.01 L192.68,188.95 L193.12,188.89 L193.56,188.83 L194.00,188.77 L194.45,188.71 L194.89,188.66 L195.33,188.60 L195.78,188.55 L196.22,188.49 L196.66,188.44 L197.10,188.39 L197.55,188.34 L197.99,188.28 L198.43,188.23 L198.87,188.19 L199.32,188.14 L199.76,188.09 L200.20,188.04 L200.64,188.00 L201.09,187.95 L201.53,187.91 L201.97,187.86 L202.42,187.82 L202.86,187.77 L203.30,187.73 L203.74,187.69 L204.19,187.64 L204.63,187.60 L205.07,187.56 L205.51,187.52 L205.96,187.48 L206.40,187.43 L206.84,187.39 L207.28,187.35 L207.73,187.31 L208.17,187.27 L208.61,187.23 L209.06,187.19 L209.50,187.15 L209.94,187.11 L210.38,187.06 L210.83,187.02 L211.27,186.98 L211.71,186.94 L212.15,186.90 L212.60,186.86 L213.04,186.82 L213.48,186.78 L213.92,186.74 L214.37,186.70 L214.81,186.66 L215.25,186.62 L215.70,186.58 L216.14,186.54 L216.58,186.50 L217.02,186.46 L217.47,186.42 L217.91,186.38 L218.35,186.34 L218.79,186.30 L219.24,186.27 L219.68,186.23 L220.12,186.19 L220.57,186.16 L221.01,186.12 L221.45,186.08 L221.89,186.05 L222.34,186.01 L222.78,185.98 L223.22,185.95 L223.66,185.91 L224.11,185.88 L224.55,185.85 L224.99,185.82 L225.43,185.79 L225.88,185.76 L226.32,185.73 L226.76,185.70 L227.21,185.67 L227.65,185.64 L228.09,185.61 L228.53,185.58 L228.98,185.56 L229.42,185.53 L229.86,185.50 L230.30,185.48 L230.75,185.45 L231.19,185.43 L231.63,185.40 L232.07,185.38 L232.52,185.36 L232.96,185.33 L233.40,185.31 L233.85,185.29 L234.29,185.26 L234.73,185.24 L235.17,185.22 L235.62,185.20 L236.06,185.18 L236.50,185.16 L236.94,185.13 L237.39,185.11 L237.83,185.09 L238.27,185.07 L238.72,185.05 L239.16,185.03 L239.60,185.02 L240.04,185.00 L240.49,184.98 L240.93,184.96 L241.37,184.94 L241.81,184.92 L242.26,184.90 L242.70,184.88 L243.14,184.87 L243.58,184.85 L244.03,184.83 L244.47,184.81 L244.91,184.79 L245.36,184.77 L245.80,184.75 L246.24,184.74 L246.68,184.72 L247.13,184.70 L247.57,184.68 L248.01,184.66 L248.45,184.64 L248.90,184.62 L249.34,184.60 L249.78,184.58 L250.22,184.56 L250.67,184.54 L251.11,184.52 L251.55,184.50 L252.00,184.48 L252.44,184.46 L252.88,184.44 L253.32,184.41 L253.77,184.39 L254.21,184.37 L254.65,184.35 L255.09,184.33 L255.54,184.30 L255.98,184.28 L256.42,184.26 L256.87,184.24 L257.31,184.22 L257.75,184.20 L258.19,184.18 L258.64,184.16 L259.08,184.14 L259.52,184.12 L259.96,184.10 L260.41,184.08 L260.85,184.06 L261.29,184.04 L261.73,184.02 L262.18,184.00 L262.62,183.99 L263.06,183.97 L263.51,183.96 L263.95,183.94 L264.39,183.93 L264.83,183.92 L265.28,183.90 L265.72,183.89 L266.16,183.88 L266.60,183.87 L267.05,183.86 L267.49,183.85 L267.93,183.85 L268.37,183.84 L268.82,183.83 L269.26,183.82 L269.70,183.82 L270.15,183.81 L270.59,183.81 L271.03,183.80 L271.47,183.80 L271.92,183.80 L272.36,183.79 L272.80,183.79 L273.24,183.79 L273.69,183.78 L274.13,183.78 L274.57,183.78 L275.01,183.78 L275.46,183.77 L275.90,183.77 L276.34,183.77 L276.79,183.77 L277.23,183.76 L277.67,183.76 L278.11,183.76 L278.56,183.75 L279.00,183.75 L279.44,183.75 L279.88,183.75 L280.33,183.74 L280.77,183.74 L281.21,183.73 L281.66,183.73 L282.10,183.72 L282.54,183.72 L282.98,183.72 L283.43,183.71 L283.87,183.71 L284.31,183.70 L284.75,183.70 L285.20,183.69 L285.64,183.69 L286.08,183.68 L286.52,183.67 L286.97,183.67 L287.41,183.66 L287.85,183.66 L288.30,183.65 L288.74,183.65 L289.18,183.64 L289.62,183.64 L290.07,183.63 L290.51,183.63 L290.95,183.62 L291.39,183.62 L291.84,183.61 L292.28,183.61 L292.72,183.60 L293.16,183.60 L293.61,183.60 L294.05,183.59 L294.49,183.59 L294.94,183.58 L295.38,183.58 L295.82,183.58 L296.26,183.57 L296.71,183.57 L297.15,183.57 L297.59,183.56 L298.03,183.56 L298.48,183.56 L298.92,183.55 L299.36,183.55 L299.81,183.55 L300.25,183.54 L300.69,183.54 L301.13,183.54 L301.58,183.54 L302.02,183.53 L302.46,183.53 L302.90,183.53 L303.35,183.52 L303.79,183.52 L304.23,183.52 L304.67,183.52 L305.12,183.51 L305.56,183.51 L306.00,183.51 L306.45,183.50 L306.89,183.50 L307.33,183.50 L307.77,183.49 L308.22,183.49 L308.66,183.49 L309.10,183.48 L309.54,183.48 L309.99,183.48 L310.43,183.47 L310.87,183.47 L311.31,183.47 L311.76,183.46 L312.20,183.46 L312.64,183.46 L313.09,183.45 L313.53,183.45 L313.97,183.45 L314.41,183.44 L314.86,183.44 L315.30,183.44 L315.74,183.43 L316.18,183.43 L316.63,183.43 L317.07,183.42 L317.51,183.42 L317.96,183.42 L318.40,183.41 L318.84,183.41 L319.28,183.41 L319.73,183.41 L320.17,183.40 L320.61,183.40 L321.05,183.40 L321.50,183.40 L321.94,183.39 L322.38,183.39 L322.82,183.39 L323.27,183.39 L323.71,183.39 L324.15,183.38 L324.60,183.38 L325.04,183.38 L325.48,183.38 L325.92,183.38 L326.37,183.37 L326.81,183.37 L327.25,183.37 L327.69,183.37 L328.14,183.37 L328.58,183.37 L329.02,183.37 L329.46,183.36 L329.91,183.36 L330.35,183.36 L330.79,183.36 L331.24,183.36 L331.68,183.36 L332.12,183.36 L332.56,183.36 L333.01,183.35 L333.45,183.35 L333.89,183.35 L334.33,183.35 L334.78,183.35 L335.22,183.35 L335.66,183.35 L336.10,183.35 L336.55,183.34 L336.99,183.34 L337.43,183.34 L337.88,183.34 L338.32,183.34 L338.76,183.34 L339.20,183.34 L339.65,183.34 L340.09,183.33 L340.53,183.33 L340.97,183.33 L341.42,183.33 L341.86,183.33 L342.30,183.33 L342.75,183.33 L343.19,183.32 L343.63,183.32 L344.07,183.32 L344.52,183.32 L344.96,183.32 L345.40,183.32 L345.84,183.31 L346.29,183.31 L346.73,183.31 L347.17,183.31 L347.61,183.30 L348.06,183.30 L348.50,183.30" stroke="#ff0000"/>
</g>
<g>
<circle cx="124.13" cy="50.50" r="2.45" fill="#088040"/>
<circle cx="140.75" cy="71.70" r="2.45" fill="#088040"/>
<circle cx="157.37" cy="84.80" r="2.45" fill="#088040"/>
<circle cx="173.99" cy="93.70" r="2.45" fill="#088040"/>
<circle cx="190.61" cy="100.00" r="2.45" fill="#088040"/>
<circle cx="207.23" cy="104.60" r="2.45" fill="#088040"/>
<circle cx="223.85" cy="107.80" r="2.45" fill="#088040"/>
<circle cx="240.47" cy="110.50" r="2.45" fill="#088040"/>
<circle cx="257.09" cy="112.60" r="2.45" fill="#088040"/>
<circle cx="273.71" cy="114.40" r="2.45" fill="#088040"/>
<circle cx="290.33" cy="115.60" r="2.45" fill="#088040"/>
<circle cx="306.95" cy="116.40" r="2.45" fill="#088040"/>
<circle cx="323.57" cy="117.20" r="2.45" fill="#088040"/>
<circle cx="340.19" cy="118.00" r="2.45" fill="#088040"/>
<circle cx="107.51" cy="49.20" r="2.45" fill="#a21c20"/>
<circle cx="124.13" cy="84.80" r="2.45" fill="#a21c20"/>
<circle cx="140.75" cy="101.20" r="2.45" fill="#a21c20"/>
<circle cx="157.37" cy="110.50" r="2.45" fill="#a21c20"/>
<circle cx="173.99" cy="115.20" r="2.45" fill="#a21c20"/>
<circle cx="190.61" cy="118.10" r="2.45" fill="#a21c20"/>
<circle cx="207.23" cy="119.90" r="2.45" fill="#a21c20"/>
<circle cx="223.85" cy="121.30" r="2.45" fill="#a21c20"/>
<circle cx="240.47" cy="121.80" r="2.45" fill="#a21c20"/>
<circle cx="257.09" cy="122.10" r="2.45" fill="#a21c20"/>
<circle cx="273.71" cy="122.30" r="2.45" fill="#a21c20"/>
<circle cx="290.33" cy="122.30" r="2.45" fill="#a21c20"/>
<circle cx="306.95" cy="122.30" r="2.45" fill="#a21c20"/>
<circle cx="323.57" cy="122.30" r="2.45" fill="#a21c20"/>
<circle cx="340.19" cy="122.30" r="2.45" fill="#a21c20"/>
<circle cx="85.35" cy="62.00" r="2.45" fill="#ff0000"/>
<circle cx="99.20" cy="175.90" r="2.45" fill="#ff0000"/>
<circle cx="113.05" cy="196.90" r="2.45" fill="#ff0000"/>
<circle cx="126.90" cy="199.90" r="2.45" fill="#ff0000"/>
<circle cx="140.75" cy="198.30" r="2.45" fill="#ff0000"/>
<circle cx="154.60" cy="195.70" r="2.45" fill="#ff0000"/>
<circle cx="168.45" cy="192.80" r="2.45" fill="#ff0000"/>
<circle cx="182.30" cy="190.50" r="2.45" fill="#ff0000"/>
<circle cx="196.15" cy="188.50" r="2.45" fill="#ff0000"/>
<circle cx="210.00" cy="187.10" r="2.45" fill="#ff0000"/>
<circle cx="223.85" cy="185.90" r="2.45" fill="#ff0000"/>
<circle cx="237.70" cy="185.10" r="2.45" fill="#ff0000"/>
<circle cx="251.55" cy="184.50" r="2.45" fill="#ff0000"/>
<circle cx="265.40" cy="183.90" r="2.45" fill="#ff0000"/>
<circle cx="279.25" cy="183.75" r="2.45" fill="#ff0000"/>
<circle cx="293.10" cy="183.60" r="2.45" fill="#ff0000"/>
<circle cx="306.95" cy="183.50" r="2.45" fill="#ff0000"/>
<circle cx="320.80" cy="183.40" r="2.45" fill="#ff0000"/>
<circle cx="334.65" cy="183.35" r="2.45" fill="#ff0000"/>
<circle cx="99.20" cy="29.70" r="2.45" fill="#0000ff"/>
<circle cx="113.05" cy="94.00" r="2.45" fill="#0000ff"/>
<circle cx="126.90" cy="128.30" r="2.45" fill="#0000ff"/>
<circle cx="140.75" cy="148.90" r="2.45" fill="#0000ff"/>
<circle cx="154.60" cy="161.30" r="2.45" fill="#0000ff"/>
<circle cx="168.45" cy="169.20" r="2.45" fill="#0000ff"/>
<circle cx="182.30" cy="174.20" r="2.45" fill="#0000ff"/>
<circle cx="196.15" cy="177.20" r="2.45" fill="#0000ff"/>
<circle cx="210.00" cy="179.30" r="2.45" fill="#0000ff"/>
<circle cx="223.85" cy="180.60" r="2.45" fill="#0000ff"/>
<circle cx="237.70" cy="181.50" r="2.45" fill="#0000ff"/>
<circle cx="251.55" cy="182.10" r="2.45" fill="#0000ff"/>
<circle cx="265.40" cy="182.50" r="2.45" fill="#0000ff"/>
<circle cx="279.25" cy="182.70" r="2.45" fill="#0000ff"/>
<circle cx="293.10" cy="182.85" r="2.45" fill="#0000ff"/>
<circle cx="306.95" cy="182.95" r="2.45" fill="#0000ff"/>
<circle cx="320.80" cy="183.05" r="2.45" fill="#0000ff"/>
<circle cx="334.65" cy="183.10" r="2.45" fill="#0000ff"/>
</g>
<g stroke="#000" fill="none">
<rect x="71.35" y="17.4" width="277.25" height="198.85" stroke-width="1.35"/>
</g>
<g>
<text transform="translate(73.7,236.3) scale(0.97,1.06)" text-anchor="middle">0</text>
<text transform="translate(129.1,236.3) scale(0.97,1.06)" text-anchor="middle">2</text>
<text transform="translate(184.5,236.3) scale(0.97,1.06)" text-anchor="middle">4</text>
<text transform="translate(239.9,236.3) scale(0.97,1.06)" text-anchor="middle">6</text>
<text transform="translate(295.3,236.3) scale(0.97,1.06)" text-anchor="middle">8</text>
<text transform="translate(350.7,236.3) scale(0.97,1.06)" text-anchor="middle">10</text>
<text transform="translate(62.6,22.9) scale(0.97,1.08)" text-anchor="end">1</text>
<text transform="translate(62.6,64.4) scale(0.97,1.08)" text-anchor="end">0.5</text>
<text transform="translate(62.6,105.8) scale(0.97,1.08)" text-anchor="end">0</text>
<text transform="translate(62.6,147.2) scale(0.97,1.08)" text-anchor="end">-0.5</text>
<text transform="translate(62.6,188.6) scale(0.97,1.08)" text-anchor="end">-1</text>
</g>
<!-- legend -->
<g>
<text x="249.8" y="35.2">3d</text><text transform="translate(266.8,35.2) scale(0.83,1)">&#960;</text><text x="274.2" y="39.2" style="font-size:11.7px">g</text>
<text x="249.8" y="49.7">2p</text><text transform="translate(266.8,49.7) scale(0.83,1)">&#960;</text><text x="274.0" y="53.7" style="font-size:11.7px">u</text>
<text x="249.8" y="64.2">2p</text><text transform="translate(265.5,64.2) scale(0.9,1)">&#963;</text><text x="274.4" y="68.2" style="font-size:11.7px">u</text>
<text x="250.5" y="78.7">1</text><text x="257.9" y="78.7">s</text><text transform="translate(265.1,78.7) scale(0.9,1)">&#963;</text><text x="274.2" y="83.3" style="font-size:11.7px">g</text>
</g>
<g fill="none" stroke-width="1">
<path d="M289.2,31.5 H330.3" stroke="#088040" stroke-dasharray="1.1,1.45"/>
<path d="M289.5,46 H330.3" stroke="#a21c20" stroke-dasharray="6.2,2.2,1.1,1.9"/>
<path d="M289.2,60.5 H328.6" stroke="#0000ff" stroke-dasharray="2.3,3"/>
<path d="M289.5,75 H331.3" stroke="#ff0000"/>
</g>
<text class="ser" x="182.5" y="258.7"><tspan font-style="italic">R</tspan> [a.u.]</text>
<text class="ser" transform="translate(15.9,143.5) rotate(-90)"><tspan font-style="italic">E</tspan><tspan font-style="italic" style="font-size:15.5px" dy="5.2" dx="-0.7">t</tspan><tspan dy="-5.2" dx="0.7"> [Ry]</tspan></text>
</svg>
</body></html>
